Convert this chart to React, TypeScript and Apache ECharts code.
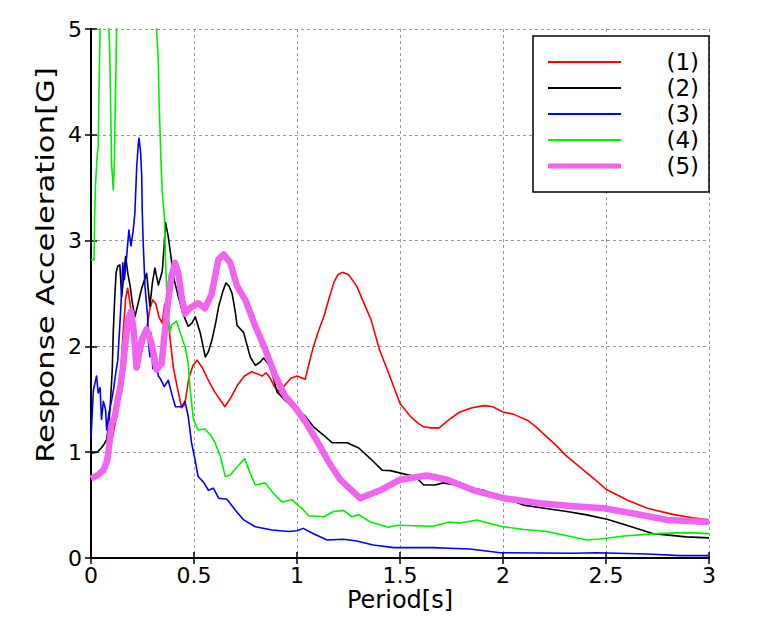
import React, { useEffect, useRef } from "react";
import * as echarts from "echarts";

// Response spectra, [period (s), response acceleration (G)]
const spectrum1: number[][] = [
  [0, 0.75], [0.03, 0.76], [0.06, 0.8], [0.085, 0.95], [0.1, 1.1], [0.12, 1.3], [0.14, 1.62],
  [0.155, 2.1], [0.168, 2.45], [0.178, 2.55], [0.19, 2.4], [0.205, 2.2], [0.225, 2.0], [0.245, 1.95],
  [0.265, 2.1], [0.285, 2.35], [0.3, 2.44], [0.315, 2.4], [0.33, 2.28], [0.345, 2.22], [0.358, 2.4],
  [0.37, 2.35], [0.385, 2.05], [0.4, 1.8], [0.42, 1.6], [0.44, 1.42], [0.455, 1.45], [0.475, 1.7],
  [0.495, 1.82], [0.515, 1.87], [0.54, 1.8], [0.57, 1.68], [0.6, 1.57], [0.625, 1.5], [0.65, 1.43],
  [0.68, 1.52], [0.71, 1.63], [0.745, 1.72], [0.78, 1.76], [0.81, 1.74], [0.83, 1.72], [0.85, 1.75],
  [0.87, 1.7], [0.89, 1.62], [0.915, 1.57], [0.94, 1.63], [0.97, 1.7], [1.0, 1.72], [1.04, 1.69],
  [1.06, 1.85], [1.08, 2.0], [1.105, 2.15], [1.13, 2.28], [1.155, 2.45], [1.18, 2.61], [1.2, 2.68],
  [1.22, 2.7], [1.25, 2.68], [1.29, 2.57], [1.32, 2.43], [1.36, 2.25], [1.4, 1.97], [1.45, 1.72],
  [1.5, 1.46], [1.55, 1.34], [1.59, 1.27], [1.615, 1.24], [1.65, 1.23], [1.69, 1.23], [1.74, 1.31],
  [1.79, 1.38], [1.85, 1.42], [1.91, 1.44], [1.95, 1.43], [2.0, 1.38], [2.05, 1.36], [2.12, 1.3],
  [2.16, 1.24], [2.21, 1.15], [2.26, 1.06], [2.31, 0.96], [2.36, 0.88], [2.41, 0.8], [2.46, 0.72],
  [2.5, 0.65], [2.55, 0.6], [2.6, 0.55], [2.7, 0.47], [2.83, 0.41], [2.92, 0.38], [3.0, 0.36],
];

const spectrum2: number[][] = [
  [0, 0.99], [0.03, 1.0], [0.05, 1.04], [0.065, 1.08], [0.076, 1.12], [0.085, 1.25], [0.092, 1.4],
  [0.098, 1.6], [0.103, 1.77], [0.108, 2.13], [0.115, 2.45], [0.122, 2.7], [0.13, 2.76], [0.14, 2.77],
  [0.149, 2.47], [0.158, 2.65], [0.168, 2.85], [0.178, 2.7], [0.19, 2.57], [0.2, 2.42], [0.213, 2.28],
  [0.228, 2.4], [0.245, 2.54], [0.258, 2.62], [0.27, 2.69], [0.286, 2.38], [0.298, 2.6], [0.31, 2.74],
  [0.327, 2.58], [0.346, 2.71], [0.355, 2.95], [0.362, 3.17], [0.375, 3.04], [0.388, 2.85], [0.4, 2.66],
  [0.424, 2.47], [0.448, 2.3], [0.472, 2.19], [0.49, 2.22], [0.506, 2.28], [0.53, 2.13], [0.555, 1.9],
  [0.57, 1.95], [0.587, 2.06], [0.605, 2.22], [0.62, 2.38], [0.64, 2.52], [0.655, 2.6], [0.67, 2.57],
  [0.685, 2.5], [0.7, 2.33], [0.709, 2.2], [0.741, 2.13], [0.773, 1.9], [0.798, 1.82], [0.82, 1.85],
  [0.838, 1.89], [0.87, 1.81], [0.903, 1.57], [0.943, 1.49], [1.0, 1.4], [1.04, 1.34], [1.08, 1.24],
  [1.13, 1.16], [1.17, 1.09], [1.243, 1.09], [1.3, 1.04], [1.356, 0.94], [1.413, 0.83], [1.453, 0.826],
  [1.517, 0.795], [1.574, 0.77], [1.615, 0.69], [1.67, 0.69], [1.71, 0.71], [1.8, 0.68], [1.906, 0.64],
  [2.0, 0.57], [2.1, 0.5], [2.2, 0.47], [2.31, 0.44], [2.4, 0.41], [2.505, 0.366], [2.6, 0.31],
  [2.73, 0.23], [2.89, 0.2], [3.0, 0.19],
];

const spectrum3: number[][] = [
  [0, 1.13], [0.008, 1.45], [0.012, 1.59], [0.02, 1.66], [0.027, 1.72], [0.035, 1.56], [0.044, 1.61],
  [0.051, 1.31], [0.06, 1.48], [0.066, 1.44], [0.071, 1.4], [0.076, 1.21], [0.087, 1.37], [0.1, 1.49],
  [0.11, 1.6], [0.12, 1.75], [0.13, 1.87], [0.146, 2.41], [0.154, 2.79], [0.162, 2.63], [0.173, 2.85],
  [0.184, 3.1], [0.194, 2.95], [0.205, 3.1], [0.213, 3.26], [0.222, 3.7], [0.23, 3.92], [0.233, 3.97],
  [0.241, 3.83], [0.246, 3.62], [0.249, 3.26], [0.254, 2.95], [0.262, 2.57], [0.275, 2.28],
  [0.278, 2.06], [0.286, 1.9], [0.29, 2.13], [0.3, 1.79], [0.318, 1.83], [0.327, 1.72], [0.335, 1.7],
  [0.356, 1.62], [0.375, 1.68], [0.395, 1.53], [0.41, 1.43], [0.44, 1.43], [0.456, 1.48], [0.472, 1.34],
  [0.488, 1.09], [0.505, 0.93], [0.52, 0.77], [0.545, 0.72], [0.57, 0.64], [0.594, 0.66], [0.62, 0.565],
  [0.66, 0.555], [0.7, 0.454], [0.741, 0.36], [0.798, 0.296], [0.879, 0.265], [0.96, 0.25], [1.0, 0.258],
  [1.03, 0.28], [1.08, 0.23], [1.146, 0.17], [1.226, 0.177], [1.29, 0.16], [1.37, 0.123], [1.47, 0.098],
  [1.66, 0.098], [1.74, 0.092], [1.84, 0.085], [1.987, 0.05], [2.34, 0.045], [2.456, 0.05], [2.7, 0.038],
  [2.86, 0.022], [3.0, 0.022],
];

const spectrum4: number[][] = [
  [0, 2.82], [0.015, 2.82], [0.018, 3.26], [0.022, 3.53], [0.03, 3.81], [0.035, 3.88], [0.039, 4.46],
  [0.044, 5.0], [0.048, 6.0], [0.082, 6.0], [0.087, 5.0], [0.092, 4.7], [0.097, 4.08], [0.1, 3.72],
  [0.105, 3.58], [0.108, 3.48], [0.113, 3.7], [0.116, 4.08], [0.121, 4.59], [0.124, 5.0], [0.128, 6.0],
  [0.312, 6.0], [0.318, 5.0], [0.327, 4.7], [0.33, 4.33], [0.335, 4.05], [0.34, 3.73], [0.346, 3.45],
  [0.356, 3.23], [0.362, 2.82], [0.367, 2.54], [0.375, 2.31], [0.383, 2.13], [0.39, 2.2], [0.415, 2.24],
  [0.44, 2.09], [0.456, 2.0], [0.472, 1.84], [0.48, 1.62], [0.497, 1.31], [0.52, 1.21], [0.553, 1.22],
  [0.585, 1.15], [0.603, 1.085], [0.628, 0.96], [0.652, 0.77], [0.676, 0.785], [0.709, 0.86],
  [0.746, 0.94], [0.773, 0.8], [0.798, 0.69], [0.846, 0.71], [0.886, 0.61], [0.927, 0.53], [0.976, 0.55],
  [1.024, 0.47], [1.056, 0.4], [1.13, 0.39], [1.178, 0.44], [1.226, 0.45], [1.267, 0.39], [1.3, 0.41],
  [1.356, 0.34], [1.445, 0.29], [1.485, 0.31], [1.66, 0.3], [1.74, 0.34], [1.79, 0.33], [1.874, 0.36],
  [1.987, 0.3], [2.1, 0.27], [2.214, 0.25], [2.31, 0.21], [2.408, 0.17], [2.47, 0.18], [2.6, 0.21],
  [2.75, 0.23], [2.89, 0.24], [3.0, 0.23],
];

const spectrum5: number[][] = [
  [0, 0.75], [0.035, 0.785], [0.06, 0.83], [0.075, 0.9], [0.084, 0.99], [0.1, 1.27], [0.116, 1.34],
  [0.13, 1.5], [0.14, 1.59], [0.155, 1.8], [0.168, 2.05], [0.18, 2.25], [0.194, 2.33], [0.207, 2.15],
  [0.221, 1.8], [0.235, 1.95], [0.246, 2.06], [0.27, 2.16], [0.294, 2.03], [0.318, 1.78], [0.343, 1.84],
  [0.367, 2.31], [0.39, 2.66], [0.408, 2.79], [0.424, 2.69], [0.44, 2.47], [0.456, 2.31], [0.48, 2.36],
  [0.52, 2.41], [0.553, 2.36], [0.585, 2.49], [0.618, 2.82], [0.644, 2.87], [0.676, 2.79], [0.709, 2.57],
  [0.749, 2.44], [0.798, 2.19], [0.846, 1.97], [0.895, 1.72], [0.943, 1.53], [0.992, 1.42], [1.04, 1.29],
  [1.09, 1.13], [1.15, 0.92], [1.21, 0.74], [1.306, 0.565], [1.404, 0.64], [1.5, 0.74], [1.63, 0.78],
  [1.73, 0.74], [1.857, 0.64], [2.003, 0.565], [2.18, 0.517], [2.343, 0.49], [2.49, 0.47], [2.634, 0.42],
  [2.796, 0.36], [3.0, 0.34],
];

const seriesNames = ["(1)", "(2)", "(3)", "(4)", "(5)"];
const seriesData = [spectrum1, spectrum2, spectrum3, spectrum4, spectrum5];
const seriesColors = ["#ff0000", "#000000", "#0000ff", "#00ee00", "#f064f0"];
const seriesWidths = [1.6, 1.6, 1.6, 1.6, 6.5];
const legendWidths = [2, 2, 2, 2, 5];

const xTicks = [0, 0.5, 1, 1.5, 2, 2.5, 3];
const yTicks = [0, 1, 2, 3, 4, 5];

const xTitle = "Period[s]";
const yTitle = "Response Acceleration[G]";

const FONT = "DejaVu Sans";

export default function App() {
  const ref = useRef<HTMLDivElement>(null);

  useEffect(() => {
    if (!ref.current) return;
    const chart = echarts.init(ref.current, undefined, { renderer: "svg" });

    const frameAxis = {
      axisLine: { show: true, lineStyle: { color: "#000", width: 2 } },
      axisTick: { show: true, inside: true, length: 6, lineStyle: { color: "#000", width: 1.5 } },
    };

    const legendTop = 36;
    const legendRowY = [62, 88, 114, 140, 166];
    const graphics: any[] = [
      // vertical axis title, stretched along its length to the wide face of the plot
      {
        type: "text",
        x: 45,
        y: 265,
        rotation: Math.PI / 2,
        scaleX: 1.28,
        style: {
          text: yTitle,
          fill: "#000",
          font: `24px "${FONT}"`,
          align: "center",
          verticalAlign: "middle",
        },
      },
      {
        type: "rect",
        shape: { x: 533, y: legendTop, width: 176, height: 156 },
        style: { fill: "#fff", stroke: "#000", lineWidth: 1.5 },
        z: 100,
      },
    ];
    seriesNames.forEach((name, i) => {
      graphics.push({
        type: "line",
        shape: { x1: 548, y1: legendRowY[i], x2: 621, y2: legendRowY[i] },
        style: { stroke: seriesColors[i], lineWidth: legendWidths[i] },
        z: 101,
      });
      graphics.push({
        type: "text",
        x: 699,
        y: legendRowY[i],
        style: {
          text: name,
          fill: "#000",
          font: `23px "${FONT}"`,
          align: "right",
          verticalAlign: "middle",
        },
        z: 101,
      });
    });

    chart.setOption({
      animation: false,
      backgroundColor: "#fff",
      grid: { left: 91, right: 72, top: 29, bottom: 62, containLabel: false },
      xAxis: [
        {
          type: "value",
          min: 0,
          max: 3,
          interval: 0.5,
          position: "bottom",
          name: xTitle,
          nameLocation: "middle",
          nameGap: 30,
          nameMoveOverlap: false,
          nameTextStyle: { color: "#000", fontSize: 24, fontFamily: FONT },
          ...frameAxis,
          axisLabel: {
            color: "#000",
            fontSize: 22,
            fontFamily: FONT,
            margin: 6,
            formatter: (v: number) => (xTicks.includes(v) ? String(v) : ""),
          },
          splitLine: { show: true, lineStyle: { color: "#999", type: [3, 3], width: 1 } },
        },
        {
          type: "value",
          min: 0,
          max: 3,
          interval: 0.5,
          position: "top",
          ...frameAxis,
          axisLabel: { show: false },
          splitLine: { show: false },
        },
      ],
      yAxis: [
        {
          type: "value",
          min: 0,
          max: 5,
          interval: 1,
          position: "left",
          ...frameAxis,
          axisLabel: {
            color: "#000",
            fontSize: 22,
            fontFamily: FONT,
            margin: 9,
            formatter: (v: number) => (yTicks.includes(v) ? String(v) : ""),
          },
          splitLine: { show: true, lineStyle: { color: "#999", type: [3, 3], width: 1 } },
        },
        {
          type: "value",
          min: 0,
          max: 5,
          interval: 1,
          position: "right",
          ...frameAxis,
          axisLabel: { show: false },
          splitLine: { show: false },
        },
      ],
      series: seriesData.map((data, i) => ({
        name: seriesNames[i],
        type: "line",
        data,
        xAxisIndex: 0,
        yAxisIndex: 0,
        showSymbol: false,
        symbol: "none",
        clip: true,
        lineStyle: { color: seriesColors[i], width: seriesWidths[i], join: "round" },
        z: 2 + i,
      })),
      graphic: graphics,
    });

    return () => chart.dispose();
  }, []);

  return (
    <div
      ref={ref}
      style={{ position: "fixed", left: 0, top: 0, width: 781, height: 620, background: "#fff" }}
    />
  );
}
